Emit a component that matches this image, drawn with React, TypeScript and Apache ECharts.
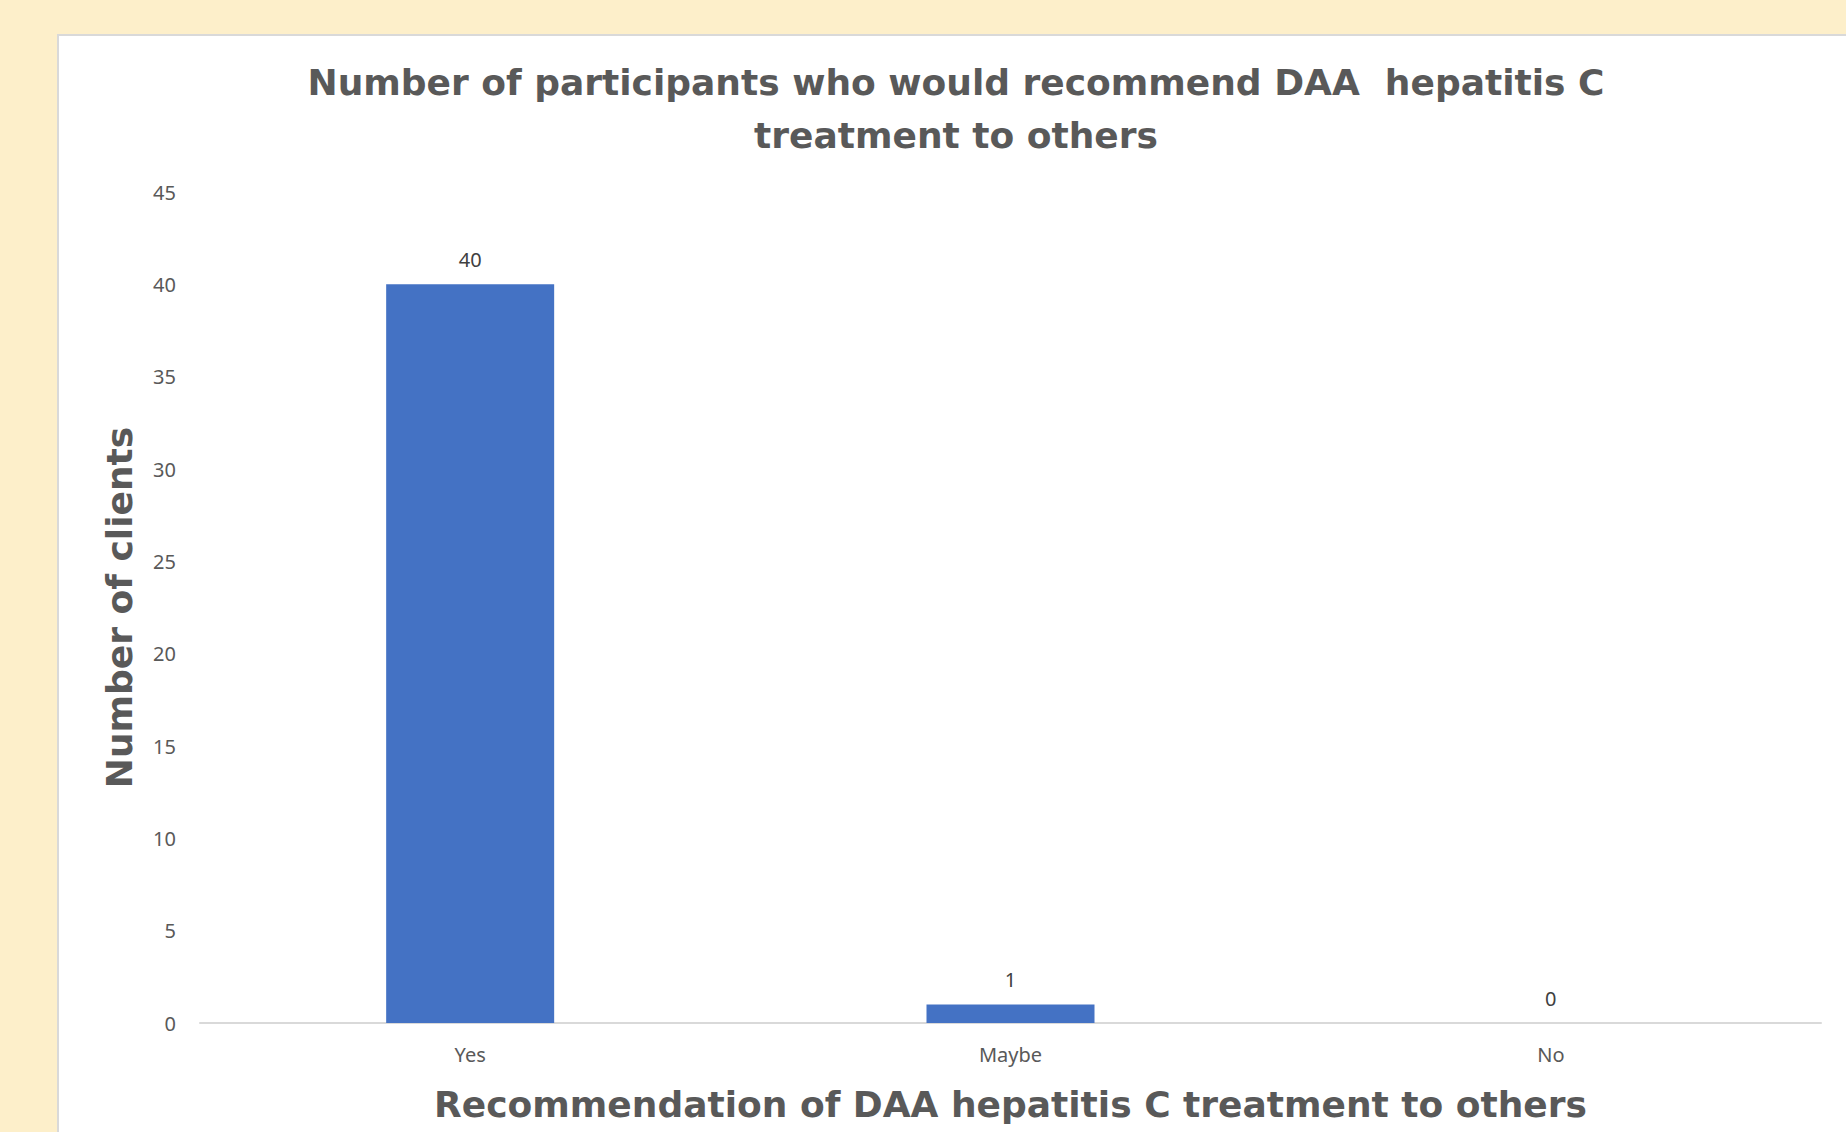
import React, { useEffect, useRef } from "react";
import * as echarts from "echarts";

const categories = ["Yes", "Maybe", "No"];
const clients = [40, 1, 0];
const titleText = "Number of participants who would recommend DAA  hepatitis C\ntreatment to others";
const xName = "Recommendation of DAA hepatitis C treatment to others";
const yName = "Number of clients";

export default function App() {
  const ref = useRef<HTMLDivElement>(null);
  useEffect(() => {
    if (!ref.current) return;
    const chart = echarts.init(ref.current, undefined, { renderer: "svg" });
    const heavy = "'DejaVu Sans', 'Liberation Sans', Arial, sans-serif";
    const body = "'Noto Sans', 'Open Sans', sans-serif";
    chart.setOption({
      animation: false,
      backgroundColor: "#FDEFCA",
      graphic: [
        {
          type: "rect",
          silent: true,
          z: -10,
          shape: { x: 58, y: 35, width: 1846, height: 1200 },
          style: { fill: "#FFFFFF", stroke: "#D9D9D9", lineWidth: 2 },
        },
      ],
      title: {
        text: titleText,
        left: 951,
        top: 51,
        textAlign: "center",
        textStyle: {
          fontFamily: heavy,
          fontWeight: "bold",
          fontSize: 36,
          lineHeight: 53,
          color: "#595959",
        },
      },
      grid: { left: 200, right: 25, top: 192, bottom: 109 },
      xAxis: {
        type: "category",
        data: categories,
        name: xName,
        nameLocation: "middle",
        nameGap: 63,
        nameTextStyle: { fontFamily: heavy, fontWeight: "bold", fontSize: 36, color: "#595959" },
        axisLine: { lineStyle: { color: "#D9D9D9", width: 2 } },
        axisTick: { show: false },
        axisLabel: { margin: 21, fontFamily: body, fontSize: 20, color: "#595959" },
      },
      yAxis: {
        type: "value",
        min: 0,
        max: 45,
        interval: 5,
        name: yName,
        nameLocation: "middle",
        nameGap: 63,
        nameRotate: 90,
        nameTextStyle: { fontFamily: heavy, fontWeight: "bold", fontSize: 36, color: "#595959" },
        axisLine: { show: false },
        axisTick: { show: false },
        splitLine: { show: false },
        axisLabel: { margin: 24, fontFamily: body, fontSize: 20, color: "#595959" },
      },
      series: [
        {
          type: "bar",
          data: clients,
          barWidth: 168,
          itemStyle: { color: "#4472C4" },
          label: {
            show: true,
            position: "top",
            distance: 15,
            fontFamily: body,
            fontSize: 20,
            color: "#404040",
          },
        },
      ],
    });
    return () => chart.dispose();
  }, []);
  return (
    <div
      ref={ref}
      style={{ position: "fixed", left: 0, top: 0, width: 1846, height: 1132 }}
    />
  );
}
